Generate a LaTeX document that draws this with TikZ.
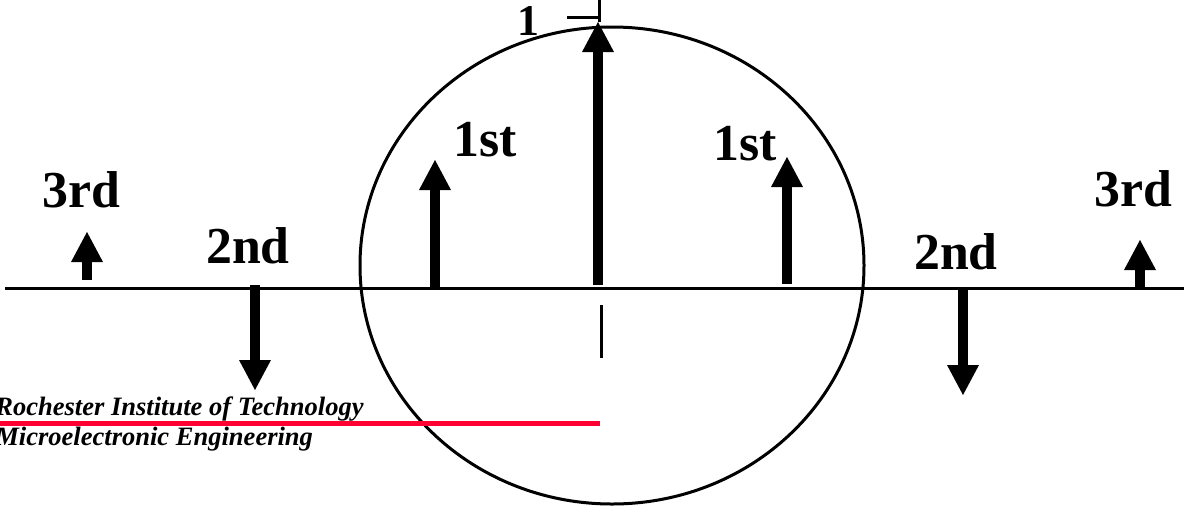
\documentclass[tikz,border=0pt]{standalone}
\usepackage{fontspec}
\setmainfont{Liberation Serif}
\usetikzlibrary{arrows.meta, positioning}
\definecolor{RITRed}{HTML}{FF0033}

\begin{document}
\begin{tikzpicture}[
    x=0.02cm, y=-0.02cm,
    order/.style={font=\fontsize{29.5}{29.5}\selectfont\bfseries, inner sep=0pt, anchor=base},
    footer/.style={font=\fontsize{15.1}{16}\selectfont\bfseries\itshape, inner sep=0pt, anchor=base west},
    spike/.style={-{Triangle[width=0.64cm, length=0.6cm, line width=0pt]}, line width=0.2cm},
    thin/.style={line width=0.06cm},
]
\useasboundingbox (0,0) rectangle (1184,508);

% Axis and circle
\coordinate (axL) at (5,288);
\coordinate (axR) at (1184,288);
\draw[thin] (axL) -- (axR);
\draw[thin] (612,265.5) ellipse (252 and 238.5);

% Unit mark
\coordinate (top) at (599,0);
\coordinate (tick) at (567,17);
\node[order, font=\fontsize{25}{25}\selectfont\bfseries] (one) at (528,35) {1};
\draw[thin] (top) -- (599,22);
\draw[thin] (tick) -- (599,17);
\coordinate (cutA) at (601,305);
\coordinate (cutB) at (601,358);
\draw[thin] (cutA) -- (cutB);

% Orders
\node[order] (third1) at (81,207) {3rd};
\node[order] (second1) at (248,263) {2nd};
\node[order] (first1) at (485,156) {1st};
\node[order] (first2) at (745,160) {1st};
\node[order] (second2) at (956,269) {2nd};
\node[order] (third2) at (1133,206) {3rd};

% Spikes
\coordinate (c0) at (598,285);  \coordinate (t0) at (598,22);
\coordinate (c1) at (435,287);  \coordinate (t1) at (435,160);
\coordinate (c2) at (787,284);  \coordinate (t2) at (787,157);
\coordinate (c3) at (87,280);   \coordinate (t3) at (87,232);
\coordinate (c4) at (1140,288); \coordinate (t4) at (1140,240);
\coordinate (c5) at (255,285);  \coordinate (t5) at (255,390);
\coordinate (c6) at (963,290);  \coordinate (t6) at (963,395);
\foreach \i in {0,...,6}
  \draw[spike] (c\i) -- (t\i);

% Footer
\coordinate (redL) at (0,423.5);
\coordinate (redR) at (600,423.5);
\draw[RITRed, line width=0.1cm] (redL) -- (redR);
\node[footer] (rit) at (-5,415) {Rochester Institute of Technology};
\node[footer] (mee) at (-5,445) {Microelectronic Engineering};

\end{tikzpicture}
\end{document}
